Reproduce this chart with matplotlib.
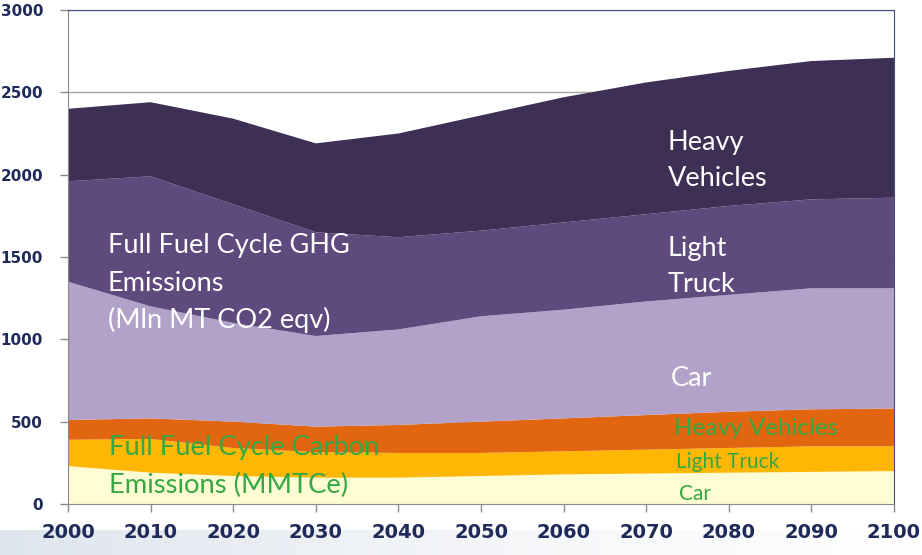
import matplotlib.pyplot as plt
import numpy as np

# Data (layer thickness, stacked bottom to top)
years = [2000, 2010, 2020, 2030, 2040, 2050, 2060, 2070, 2080, 2090, 2100]
car_carbon = [230, 190, 170, 160, 160, 170, 180, 185, 190, 195, 200]
light_truck_carbon = [160, 205, 170, 155, 150, 140, 140, 145, 150, 155, 150]
heavy_carbon = [120, 125, 160, 155, 170, 190, 200, 210, 220, 225, 230]
car_ghg = [840, 680, 600, 550, 580, 640, 660, 690, 710, 735, 730]
light_truck_ghg = [610, 790, 720, 630, 560, 520, 530, 530, 540, 540, 550]
heavy_ghg = [440, 450, 520, 540, 630, 700, 760, 800, 820, 840, 850]

colors = ['#fdfcd2', '#ffb703', '#e2650f', '#b2a1c8', '#5e4a7d', '#3e2f55']

fig = plt.figure(figsize=(9.22, 5.55), dpi=100)

# faint slide strip along the bottom
bg = fig.add_axes([0, 0, 1, 0.045], zorder=-5)
grad = np.linspace(0.0, 1.0, 256).reshape(1, -1)
bg.imshow(grad, aspect='auto', cmap=plt.matplotlib.colors.LinearSegmentedColormap.from_list(
    'strip', ['#dfe5ee', '#f3f5f8', '#ffffff']), extent=[0, 1, 0, 1])
bg.axis('off')

ax = fig.add_axes([0.0738, 0.0919, 0.8958, 0.8901])
ax.stackplot(years, car_carbon, light_truck_carbon, heavy_carbon,
             car_ghg, light_truck_ghg, heavy_ghg, colors=colors, zorder=2)

ax.set_xlim(2000, 2100)
ax.set_ylim(0, 3000)
ax.set_xticks(years)
ax.set_yticks([0, 500, 1000, 1500, 2000, 2500, 3000])
ax.yaxis.grid(True, color='#a8a8a8', linewidth=1)
ax.set_axisbelow(True)

ax.tick_params(axis='x', labelsize=14, labelcolor='#1e2a5a', color='#8a8a8a',
               length=6, width=1, pad=8)
ax.tick_params(axis='y', labelsize=11, labelcolor='#1e2a5a', color='#8a8a8a',
               length=6, width=1, pad=12)
for lab in ax.get_xticklabels() + ax.get_yticklabels():
    lab.set_fontweight('bold')

for side in ['left', 'bottom']:
    ax.spines[side].set_color('#8a8a8a')
for side in ['top', 'right']:
    ax.spines[side].set_color('#3f4f80')

white = dict(color='white', fontsize=19.5, family='Lato', va='center', ha='left')
ax.text(2004.8, 1572, 'Full Fuel Cycle GHG', **white)
ax.text(2004.8, 1342, 'Emissions', **white)
ax.text(2004.8, 1117, '(Mln MT CO2 eqv)', **white)
ax.text(2072.6, 2198, 'Heavy', **white)
ax.text(2072.6, 1979, 'Vehicles', **white)
ax.text(2072.6, 1554, 'Light', **white)
ax.text(2072.6, 1330, 'Truck', **white)
ax.text(2073.0, 765, 'Car', **white)

green = dict(color='#35a843', family='Lato', va='center', ha='left')
ax.text(2005.0, 346, 'Full Fuel Cycle Carbon', fontsize=19.7, **green)
ax.text(2005.0, 115, 'Emissions (MMTCe)', fontsize=19.7, **green)
ax.text(2073.4, 461, 'Heavy Vehicles', fontsize=17.5, **green)
ax.text(2073.6, 255, 'Light Truck', fontsize=15, **green)
ax.text(2074.0, 61, 'Car', fontsize=15, **green)

plt.savefig('out.png', dpi=100)
